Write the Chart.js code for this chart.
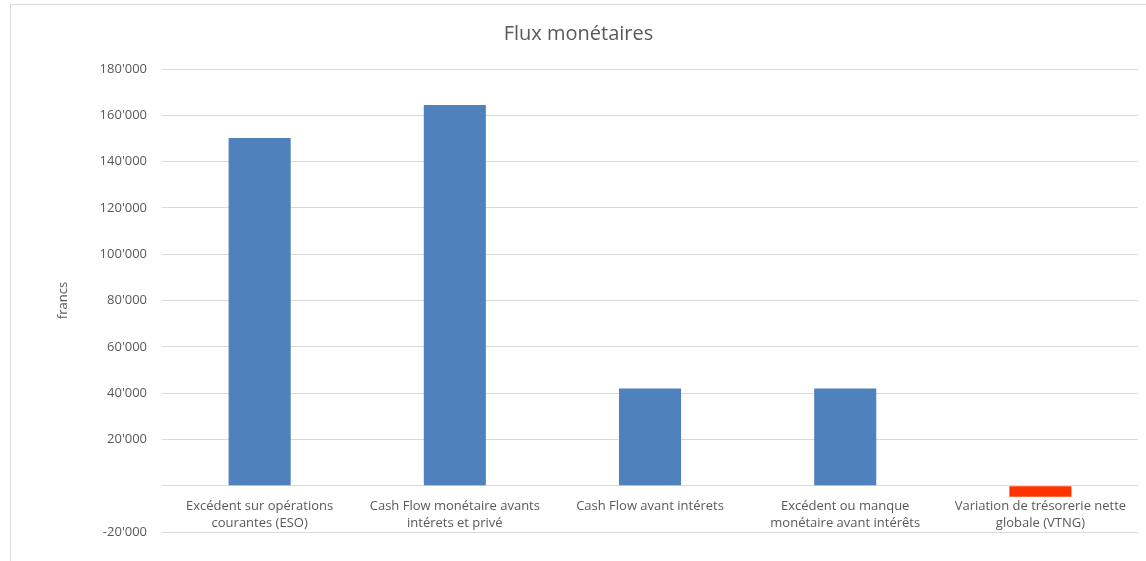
<!DOCTYPE html>
<html>
<head>
<meta charset="utf-8">
<script src="https://cdn.jsdelivr.net/npm/chart.js@4"></script>
<style>
    body { margin: 0; background: #fff; overflow: hidden; }
    .frame {
        position: absolute;
        left: 10px;
        top: 4px;
        width: 1137px;
        height: 565px;
        border: 1px solid #d9d9d9;
        box-sizing: border-box;
    }
</style>
</head>
<body>
<div class="frame">
    <canvas id="flux-chart"></canvas>
</div>
<script>
// Data
const categories = [
    ['Excédent sur opérations', 'courantes (ESO)'],
    ['Cash Flow monétaire avants', 'intérets et privé'],
    'Cash Flow avant intérets',
    ['Excédent ou manque', 'monétaire avant intérêts'],
    ['Variation de trésorerie nette', 'globale (VTNG)']
];
const values = [150200, 164500, 42000, 42000, -4800];
const yTicks = [-20000, 0, 20000, 40000, 60000, 80000, 100000, 120000, 140000, 160000, 180000];

const BLUE = '#4F81BD';
const RED = '#FF3300';
const TEXT = '#595959';
const GRID = '#D9D9D9';
const FONT = "'Open Sans', 'Noto Sans', sans-serif";

function formatFrancs(v) {
    if (v === 0) return '';
    return String(v).replace(/\B(?=(\d{3})+(?!\d))/g, "'");
}

const ctx = document.getElementById('flux-chart');

new Chart(ctx, {
    type: 'bar',
    data: {
        labels: categories,
        datasets: [{
            label: 'Flux monétaires',
            data: values,
            backgroundColor: values.map(v => v < 0 ? RED : BLUE),
            categoryPercentage: 1,
            barPercentage: 0.318
        }]
    },
    options: {
        responsive: true,
        maintainAspectRatio: false,
        animation: false,
        layout: {
            padding: { left: 8, right: 8, top: 0, bottom: 36 }
        },
        plugins: {
            legend: { display: false },
            tooltip: { enabled: false },
            title: {
                display: true,
                text: 'Flux monétaires',
                color: TEXT,
                font: { family: FONT, size: 20, weight: 'normal' },
                padding: { top: 17, bottom: 23 }
            }
        },
        scales: {
            // category axis sits on the zero line, like the original
            x: {
                position: { y: 0 },
                grid: { display: false, drawTicks: false },
                border: { display: false },
                ticks: {
                    color: TEXT,
                    font: { family: FONT, size: 13, lineHeight: 1.3 },
                    padding: 12,
                    maxRotation: 0,
                    autoSkip: false
                }
            },
            y: {
                min: yTicks[0],
                max: yTicks[yTicks.length - 1],
                afterBuildTicks: axis => {
                    axis.ticks = yTicks.map(v => ({ value: v }));
                },
                grid: { color: GRID, drawTicks: false },
                border: { display: false },
                ticks: {
                    color: TEXT,
                    font: { family: FONT, size: 13 },
                    padding: 15,
                    callback: v => formatFrancs(v)
                },
                title: {
                    display: true,
                    text: 'francs',
                    color: TEXT,
                    font: { family: FONT, size: 13 },
                    padding: { top: 36, bottom: 14 }
                }
            }
        }
    }
});
</script>
</body>
</html>
